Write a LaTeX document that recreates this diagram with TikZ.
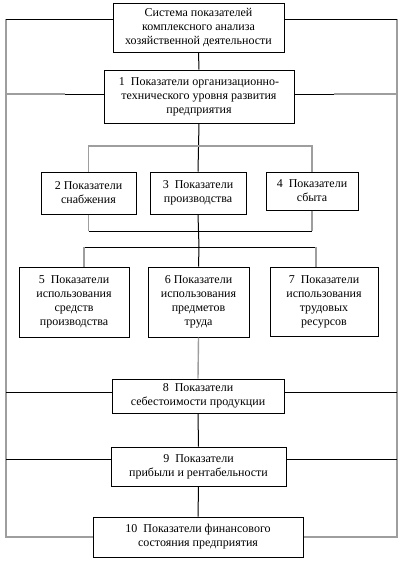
\documentclass[tikz,border=0pt]{standalone}
\usepackage{fontspec}
\setmainfont{Liberation Serif}
\begin{document}
\begin{tikzpicture}[x=1pt,y=-1pt,
  box/.style={draw, line width=1pt, inner sep=0pt, align=center, font=\fontsize{12}{14}\selectfont},
  blk/.style={draw=black, line width=1pt},
  gr/.style={draw=black!38, line width=1.4pt}]
\useasboundingbox (0,0) rectangle (405,563);
% boxes
\node[box, minimum width=171pt, minimum height=49pt] (top) at (198.5,27.5) {Система показателей\\комплексного анализа\\хозяйственной деятельности};
\node[box, minimum width=190pt, minimum height=53pt] (b1) at (199,96.5) {1~~Показатели организационно-\\технического уровня развития\\предприятия};
\node[box, minimum width=95pt, minimum height=42pt] (b2) at (88.5,193) {2 Показатели\\снабжения};
\node[box, minimum width=96pt, minimum height=42pt] (b3) at (198,193) {3~~Показатели\\производства};
\node[box, minimum width=92pt, minimum height=38pt] (b4) at (312,191) {4~~Показатели\\сбыта};
\node[box, minimum width=110pt, minimum height=70pt] (b5) at (74,302) {5~~Показатели\\использования\\средств\\производства};
\node[box, minimum width=101pt, minimum height=70pt] (b6) at (198.5,302) {6 Показатели\\использования\\предметов\\труда};
\node[box, minimum width=108pt, minimum height=69pt] (b7) at (324,301.5) {7~~Показатели\\использования\\трудовых\\ресурсов};
\node[box, minimum width=172pt, minimum height=34pt] (b8) at (198,396) {8~~Показатели\\себестоимости продукции};
\node[box, minimum width=175pt, minimum height=39pt] (b9) at (198.5,466.5) {9~~Показатели\\прибыли и рентабельности};
\node[box, minimum width=210pt, minimum height=40pt] (b10) at (198,537) {10~~Показатели финансового\\состояния предприятия};
% frame coordinates
\coordinate (tl) at (6,19);
\coordinate (tr) at (397,19);
\coordinate (bl) at (6,537);
\coordinate (br) at (397,537);
\coordinate (m1l) at (6,94);
\coordinate (m1r) at (397,94);
\coordinate (s1l) at (65,94);
\coordinate (s1r) at (334,94);
\coordinate (m8l) at (6,392);
\coordinate (m8r) at (397,392);
\coordinate (m9l) at (6,459);
\coordinate (m9r) at (397,459);
\coordinate (h1) at (199,146);
\coordinate (h2) at (199,231);
\coordinate (h3) at (199,247);
\coordinate (c5) at (84,247);
\coordinate (c7) at (316,247);
% frame
\draw[gr] (tl) -- (bl) -- (bl -| b10.west);
\draw[gr] (tr) -- (br) -- (br -| b10.east);
\draw[blk] (tl) -- (tl -| top.west);
\draw[blk] (tr) -- (tr -| top.east);
\draw[gr] (m1l) -- (s1l);
\draw[blk] (s1l) -- (s1l -| b1.west);
\draw[gr] (m1r) -- (s1r);
\draw[blk] (s1r) -- (s1r -| b1.east);
\draw[blk] (m8l) -- (m8l -| b8.west);
\draw[blk] (m8r) -- (m8r -| b8.east);
\draw[blk] (m9l) -- (m9l -| b9.west);
\draw[blk] (m9r) -- (m9r -| b9.east);
% spine
\draw[blk] (top.south) -- (b1.north);
\draw[blk] (b1.south) -- (b3.north);
\draw[gr] (b2.north) |- (h1) -| (b4.north);
\draw[gr] (b2.south) -- (b2.south |- h2);
\draw[gr] (b4.south) -- (b4.south |- h2);
\draw[blk] (b2.south |- h2) -- (b4.south |- h2);
\draw[blk] (b3.south) -- (h3);
\draw[blk] (c5) -- (c7);
\draw[gr] (c5) -- (c5 |- b5.north);
\draw[gr] (c7) -- (c7 |- b7.north);
\draw[blk] (h3) -- (b6.north);
\draw[gr] (b6.south) -- (b8.north);
\draw[blk] (b8.south) -- (b9.north);
\draw[blk] (b9.south) -- (b10.north);
\end{tikzpicture}
\end{document}
